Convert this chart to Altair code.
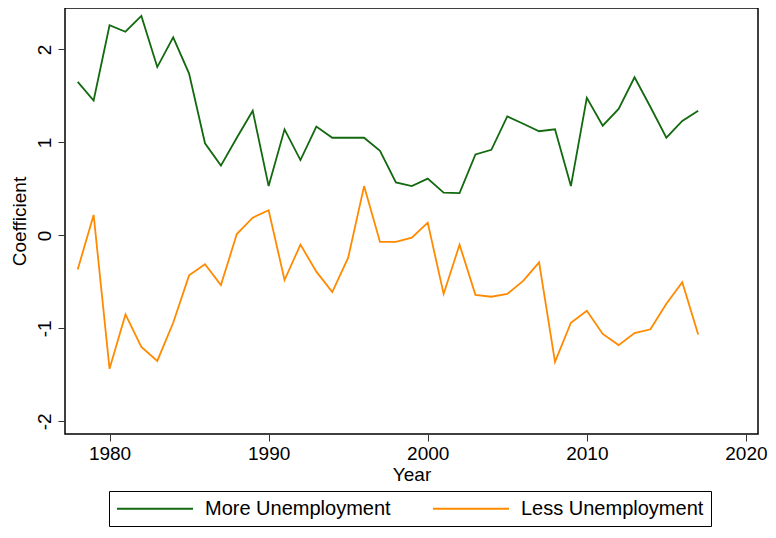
import altair as alt
import pandas as pd

years = list(range(1978, 2018))
more_unemp = [1.65, 1.45, 2.26, 2.19, 2.36, 1.81, 2.13, 1.74, 0.99, 0.75,
              1.05, 1.34, 0.53, 1.14, 0.81, 1.17, 1.05, 1.05, 1.05, 0.91,
              0.57, 0.53, 0.61, 0.46, 0.455, 0.87, 0.92, 1.28, 1.20, 1.12,
              1.14, 0.53, 1.48, 1.18, 1.36, 1.70, 1.38, 1.05, 1.23, 1.34]
less_unemp = [-0.366, 0.22, -1.435, -0.85, -1.20, -1.35, -0.94, -0.43, -0.31, -0.535,
              0.014, 0.19, 0.27, -0.48, -0.10, -0.39, -0.61, -0.24, 0.53, -0.07,
              -0.07, -0.025, 0.137, -0.63, -0.10, -0.64, -0.66, -0.63, -0.49, -0.29,
              -1.36, -0.94, -0.81, -1.06, -1.18, -1.05, -1.01, -0.735, -0.505, -1.065]
series_names = ["More Unemployment", "Less Unemployment"]
series_colors = ["#12690f", "#ff8a00"]
x_ticks = [1980, 1990, 2000, 2010, 2020]
y_ticks = [-2, -1, 0, 1, 2]

df = pd.DataFrame({
    "Year": years * 2,
    "Coefficient": more_unemp + less_unemp,
    "Series": [series_names[0]] * len(years) + [series_names[1]] * len(years),
})

FONT = "Liberation Sans"

chart = alt.Chart(df).mark_line(strokeWidth=1.8).encode(
    x=alt.X("Year:Q",
            scale=alt.Scale(domain=[1977.2, 2020.76], nice=False, zero=False),
            axis=alt.Axis(values=x_ticks, labelExpr="'' + datum.value", title="Year",
                          grid=False, labelPadding=3, titlePadding=2)),
    y=alt.Y("Coefficient:Q",
            scale=alt.Scale(domain=[-2.136, 2.445], nice=False, zero=False),
            axis=alt.Axis(values=y_ticks, labelExpr="'' + datum.value", title="Coefficient",
                          grid=False, labelAngle=-90, labelAlign="center",
                          labelBaseline="bottom", labelPadding=4, titlePadding=6)),
    color=alt.Color("Series:N",
                    scale=alt.Scale(domain=series_names, range=series_colors),
                    legend=alt.Legend(title=None, orient="none", direction="horizontal",
                                      legendX=44, legendY=483,
                                      symbolType="M-1,0H7", symbolSize=361,
                                      symbolStrokeWidth=1.8,
                                      labelFont=FONT, labelFontSize=20, labelColor="black",
                                      labelOffset=68, columnPadding=38,
                                      padding=7, strokeColor="black", fillColor="white",
                                      labelLimit=400)),
    detail="Series:N",
).properties(
    width=693,
    height=426,
    autosize=alt.AutoSizeParams(type="none"),
    padding={"left": 57, "top": 0, "right": 10, "bottom": 96},
).configure_view(
    stroke="black", strokeWidth=1.5
).configure_axis(
    domain=False,
    ticks=True, tickSize=7, tickColor="#333", tickWidth=1,
    labelFont=FONT, labelFontSize=19, labelColor="black",
    titleFont=FONT, titleFontSize=19, titleFontWeight="normal", titleColor="black",
)

chart.save("out.html", embed_options={"renderer": "svg", "actions": False})
